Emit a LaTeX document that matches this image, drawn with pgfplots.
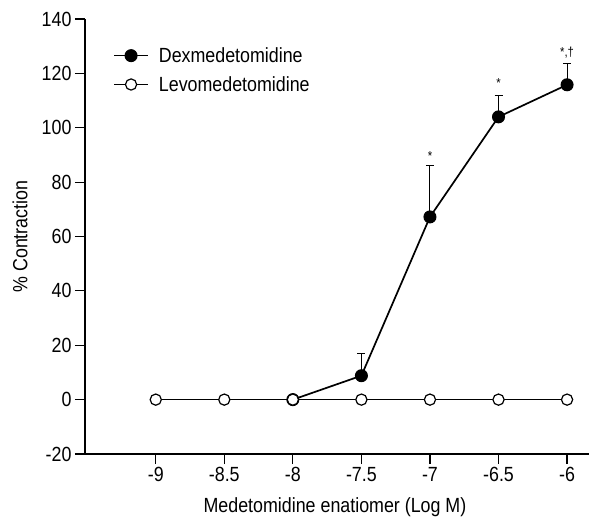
\documentclass[border=0pt]{standalone}
\usepackage{fontspec}
\setmainfont{Liberation Sans}[FakeStretch=0.87]
\usepackage{pgfplots}
\pgfplotsset{compat=1.18}
\newcommand{\bigf}{\fontsize{20.5bp}{24bp}\selectfont}
\begin{document}
\begin{tikzpicture}[font=\bigf]
\begin{axis}[
  scale only axis, width=504bp, height=435bp,
  xmin=-9.516, xmax=-5.84, ymin=-20, ymax=140,
  axis lines=left, axis line style={-, line width=1.2bp},
  tick align=outside, major tick length=10bp,
  tick style={line width=1.2bp, black},
  xtick={-9,-8.5,-8,-7.5,-7,-6.5,-6},
  ytick={-20,0,20,40,60,80,100,120,140},
  /pgf/number format/assume math mode=true,
  every tick label/.append style={font=\bigf},
  label style={font=\bigf},
  xlabel={Medetomidine enatiomer (Log M)},
  ylabel={\% Contraction},
  xlabel style={at={(axis description cs:0.496,-0.1356)}, anchor=base},
  ylabel style={at={(axis description cs:-0.129,0.5)}, anchor=center},
  legend style={at={(axis description cs:0.0556,0.935)}, anchor=north west,
    draw=none, fill=none, inner sep=0pt, row sep=12.5bp, font=\bigf,
    nodes={inner sep=0pt},
    /tikz/every odd column/.append style={column sep=10bp}},
  legend cell align=left,
  legend image code/.code={\draw[mark repeat=2,mark phase=2,#1] plot coordinates {(0bp,0bp) (17bp,0bp) (34bp,0bp)};},
]
\addplot[black, line width=1.7bp, mark=*, mark size=6bp, mark options={fill=black, line width=1bp},
  error bars/.cd, y dir=plus, y explicit,
  error mark options={rotate=90, mark size=4bp, line width=1bp, black},
  error bar style={line width=1bp, black}]
  coordinates {(-8,0) +- (0,0) (-7.5,8.8) +- (0,8) (-7,67.2) +- (0,18.8) (-6.5,104) +- (0,7.9) (-6,115.8) +- (0,8)};
\addlegendentry{Dexmedetomidine}
\addplot[black, line width=1.7bp, mark=*, mark size=5.6bp, mark options={fill=white, line width=1.2bp}]
  coordinates {(-9,0) (-8.5,0) (-8,0) (-7.5,0) (-7,0) (-6.5,0) (-6,0)};
\addlegendentry{Levomedetomidine}
\node[font=\fontsize{13bp}{14bp}\selectfont, anchor=base] at (axis cs:-7,88.0) {*};
\node[font=\fontsize{13bp}{14bp}\selectfont, anchor=base] at (axis cs:-6.5,114.8) {*};
\node[font=\fontsize{13bp}{14bp}\selectfont, anchor=base] at (axis cs:-6,126.2) {*,\textdagger};
\coordinate (sw) at (rel axis cs:0,0);
\coordinate (ne) at (rel axis cs:1,1);
\end{axis}
\pgfresetboundingbox
\path[use as bounding box] ([xshift=-85bp,yshift=-63bp]sw) rectangle ([yshift=19bp]ne);
\end{tikzpicture}
\end{document}
